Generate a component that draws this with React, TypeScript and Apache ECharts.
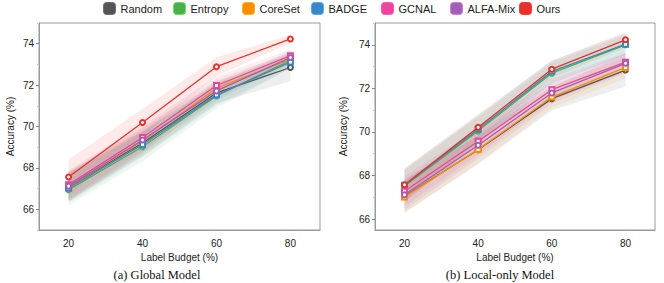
import React, { useEffect, useRef } from "react";
import * as echarts from "echarts";

const BUDGETS = [20, 40, 60, 80];
const X_TICKS = [20, 40, 60, 80];
const METHODS = ["Random", "Entropy", "CoreSet", "BADGE", "GCNAL", "ALFA-Mix", "Ours"];
const COLORS = ["#555555", "#4daf4a", "#ff8c00", "#3a87c3", "#f0449a", "#a35fb5", "#e8302a"];
const SYMBOLS = ["emptyCircle", "emptyCircle", "emptyRect", "emptyRect", "emptyRect", "emptyCircle", "emptyCircle"];

// (a) Global Model — means
const gRandom = [67.1, 69.2, 71.62, 72.85];
const gEntropy = [66.95, 69.02, 71.48, 73.2];
const gCoreSet = [67.1, 69.3, 71.85, 73.25];
const gBADGE = [67.03, 69.13, 71.53, 73.11];
const gGCNAL = [67.19, 69.47, 71.98, 73.42];
const gALFA = [67.12, 69.35, 71.72, 73.33];
const gOurs = [67.56, 70.19, 72.89, 74.23];
// (a) Global Model — std
const gRandomSd = [0.7, 0.6, 0.5, 0.65];
const gEntropySd = [0.75, 0.7, 0.6, 0.4];
const gCoreSetSd = [0.7, 0.6, 0.45, 0.3];
const gBADGESd = [0.7, 0.6, 0.5, 0.3];
const gGCNALSd = [0.7, 0.6, 0.45, 0.3];
const gALFASd = [0.7, 0.6, 0.45, 0.3];
const gOursSd = [0.85, 0.65, 0.45, 0.2];

// (b) Local-only Model — means
const lRandom = [67.05, 69.18, 71.53, 72.84];
const lEntropy = [67.52, 70.05, 72.7, 74.0];
const lCoreSet = [67.02, 69.2, 71.6, 72.96];
const lBADGE = [67.55, 70.12, 72.78, 74.03];
const lGCNAL = [67.28, 69.57, 71.94, 73.2];
const lALFA = [67.12, 69.39, 71.79, 73.15];
const lOurs = [67.58, 70.21, 72.88, 74.23];
// (b) Local-only Model — std
const lRandomSd = [0.75, 0.65, 0.55, 0.75];
const lEntropySd = [0.75, 0.65, 0.5, 0.45];
const lCoreSetSd = [0.75, 0.65, 0.5, 0.5];
const lBADGESd = [0.75, 0.65, 0.5, 0.5];
const lGCNALSd = [0.7, 0.6, 0.5, 0.45];
const lALFASd = [0.7, 0.6, 0.5, 0.45];
const lOursSd = [0.75, 0.6, 0.4, 0.35];

const Y_LABELS = [66, 68, 70, 72, 74];
const Y_MINOR_LEFT = [65, 67, 69, 71, 73, 75];
const Y_MINOR_RIGHT = [67, 69, 71, 73, 75];

const GLOBAL_MEANS = [gRandom, gEntropy, gCoreSet, gBADGE, gGCNAL, gALFA, gOurs];
const GLOBAL_SDS = [gRandomSd, gEntropySd, gCoreSetSd, gBADGESd, gGCNALSd, gALFASd, gOursSd];
const LOCAL_MEANS = [lRandom, lEntropy, lCoreSet, lBADGE, lGCNAL, lALFA, lOurs];
const LOCAL_SDS = [lRandomSd, lEntropySd, lCoreSetSd, lBADGESd, lGCNALSd, lALFASd, lOursSd];

const SANS = "Liberation Sans, Arial, Helvetica, sans-serif";
const SERIF = "Liberation Serif, Times New Roman, serif";
const BOX = "#9a9a9a";

export default function App() {
  const ref = useRef<HTMLDivElement>(null);
  useEffect(() => {
    if (!ref.current) return;
    const chart = echarts.init(ref.current, null, { renderer: "svg", width: 664, height: 283 });

    const legendX = [103, 173, 242, 311, 381, 450, 519];

    const makeXAxis = (gridIndex: number) => ({
      type: "value",
      gridIndex,
      min: 12,
      max: 88,
      name: "Label Budget (%)",
      nameLocation: "middle",
      nameGap: 20,
      nameTextStyle: { fontSize: 10, fontFamily: SANS, color: "#222" },
      axisLine: { show: true, lineStyle: { color: BOX, width: 1 } },
      axisTick: { show: false, customValues: X_TICKS },
      axisLabel: { customValues: X_TICKS, fontSize: 10, fontFamily: SANS, color: "#222", margin: 8 },
      splitLine: { show: false },
    });

    const makeYAxis = (gridIndex: number, min: number, gap: number) => ({
      type: "value",
      gridIndex,
      min,
      max: 75,
      position: "left",
      name: "Accuracy (%)",
      nameLocation: "middle",
      nameGap: gap,
      nameTextStyle: { fontSize: 10, fontFamily: SANS, color: "#222" },
      axisLine: { show: true, lineStyle: { color: BOX, width: 1 } },
      axisTick: { show: true, customValues: Y_LABELS, length: 3, lineStyle: { color: "#888" } },
      axisLabel: { customValues: Y_LABELS, fontSize: 10, fontFamily: SANS, color: "#222", margin: 5 },
      splitLine: { show: false },
    });

    const makeMinorY = (gridIndex: number, min: number, ticks: number[]) => ({
      type: "value",
      gridIndex,
      min,
      max: 75,
      position: "left",
      axisLine: { show: false },
      axisTick: { show: true, customValues: ticks, length: 2, lineStyle: { color: "#c8c8c8" } },
      axisLabel: { show: false },
      splitLine: { show: false },
    });

    const series: any[] = [];
    const addChart = (means: number[][], sds: number[][], xIdx: number, yIdx: number) => {
      METHODS.forEach((m, k) => {
        const mean = means[k];
        const sd = sds[k];
        series.push({
          type: "custom",
          name: m + " band " + xIdx,
          xAxisIndex: xIdx,
          yAxisIndex: yIdx,
          z: 1,
          silent: true,
          data: BUDGETS.map((x, i) => [x, mean[i] - sd[i], mean[i] + sd[i]]),
          encode: { x: 0, y: [1, 2] },
          renderItem: (params: any, api: any) => {
            if (params.dataIndex !== 0) return { type: "group", children: [] };
            const upper = BUDGETS.map((x, i) => api.coord([x, mean[i] + sd[i]]));
            const lower = BUDGETS.map((x, i) => api.coord([x, mean[i] - sd[i]])).reverse();
            return {
              type: "polygon",
              shape: { points: upper.concat(lower) },
              style: { fill: COLORS[k], opacity: 0.1 },
            };
          },
        });
      });
      METHODS.forEach((m, k) => {
        series.push({
          type: "line",
          name: m,
          xAxisIndex: xIdx,
          yAxisIndex: yIdx,
          z: 3 + k,
          data: BUDGETS.map((x, i) => [x, means[k][i]]),
          symbol: SYMBOLS[k],
          symbolSize: 5,
          showSymbol: true,
          lineStyle: { color: COLORS[k], width: 1.3 },
          itemStyle: { color: COLORS[k], borderWidth: 1 },
        });
      });
    };
    addChart(GLOBAL_MEANS, GLOBAL_SDS, 0, 0);
    addChart(LOCAL_MEANS, LOCAL_SDS, 1, 2);

    chart.setOption({
      animation: false,
      backgroundColor: "#ffffff",
      grid: [
        { left: 39, top: 23, width: 281, height: 207, show: true, borderColor: BOX, borderWidth: 1, backgroundColor: "transparent" },
        { left: 375, top: 23, width: 280, height: 207, show: true, borderColor: BOX, borderWidth: 1, backgroundColor: "transparent" },
      ],
      legend: METHODS.map((m, i) => ({
        data: [m],
        left: legendX[i],
        top: 2,
        padding: 0,
        icon: "roundRect",
        itemWidth: 12,
        itemHeight: 12,
        itemGap: 0,
        selectedMode: false,
        textStyle: { fontSize: 11, fontFamily: SANS, color: "#222" },
        itemStyle: { color: COLORS[i], borderColor: echarts.color.lift(COLORS[i], -0.3), borderWidth: 1 },
      })),
      xAxis: [makeXAxis(0), makeXAxis(1)],
      yAxis: [
        makeYAxis(0, 65, 24),
        makeMinorY(0, 65, Y_MINOR_LEFT),
        makeYAxis(1, 65.5, 27),
        makeMinorY(1, 65.5, Y_MINOR_RIGHT),
      ],
      graphic: [
        {
          type: "text",
          x: 157,
          y: 275,
          style: { text: "(a) Global Model", font: `12.5px ${SERIF}`, fill: "#111", textAlign: "center", textVerticalAlign: "middle" },
        },
        {
          type: "text",
          x: 500,
          y: 275,
          style: { text: "(b) Local-only Model", font: `12.5px ${SERIF}`, fill: "#111", textAlign: "center", textVerticalAlign: "middle" },
        },
      ],
      series,
    });
    return () => chart.dispose();
  }, []);
  return (
    <div
      ref={ref}
      style={{ position: "absolute", left: 0, top: 0, width: 664, height: 283, background: "#fff" }}
    />
  );
}
